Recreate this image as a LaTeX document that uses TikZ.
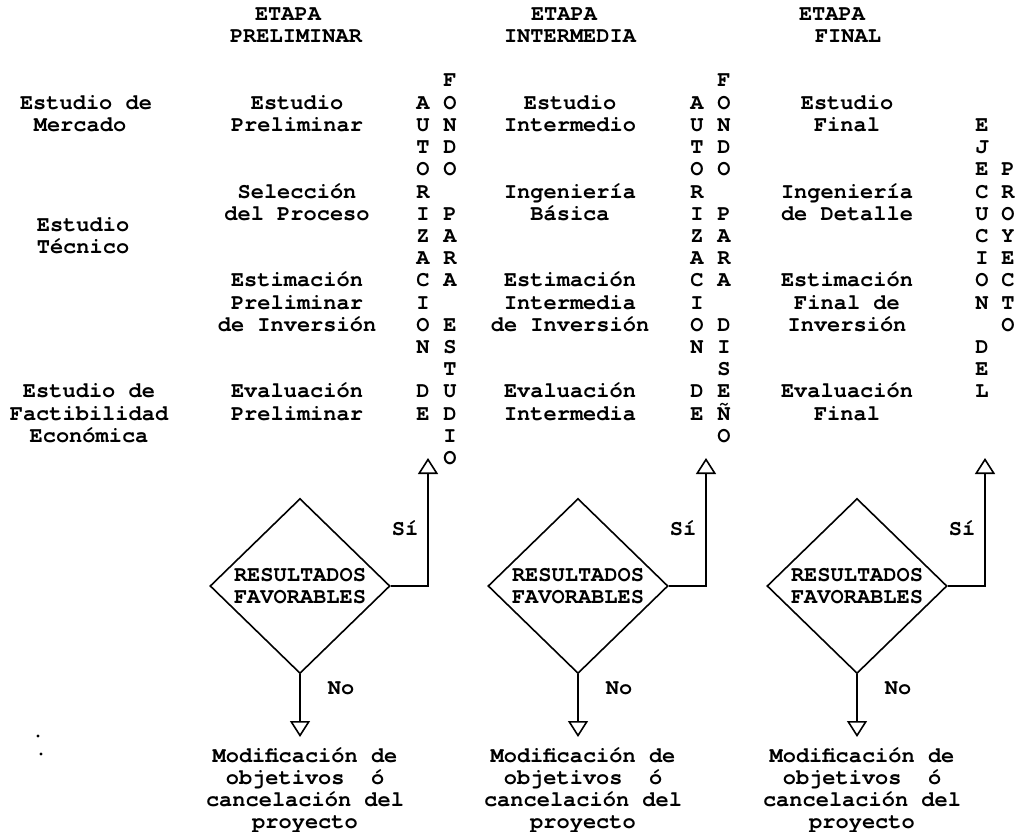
\documentclass[tikz,border=0pt]{standalone}
\usepackage{fontspec}
\setmonofont{texgyrecursor-regular}[Extension=.otf, BoldFont=texgyrecursor-bold]
\usetikzlibrary{positioning, arrows.meta, shapes.geometric}

\begin{document}
\begin{tikzpicture}[x=1pt, y=-1pt,
    txt/.style={font=\ttfamily\bfseries\fontsize{22}{22.2}\selectfont, inner sep=0pt, anchor=base},
    dec/.style={draw, diamond, line width=1.6pt, minimum width=180pt, minimum height=175pt, inner sep=0pt,
        align=center, font=\ttfamily\bfseries\fontsize{22}{22.2}\selectfont},
    conn/.style={line width=1.6pt, -{Triangle[open, length=16pt, width=20pt, line width=1.6pt]}}
]
    \useasboundingbox (0,0) rectangle (1022,832);

    % Etapas (encabezados)
    \foreach \t/\x/\r [count=\i] in {ETAPA/288/-3, PRELIMINAR/296/-2, ETAPA/564/-3, INTERMEDIA/570/-2,
        ETAPA/832/-3, FINAL/848/-2}
        \node[txt] (head\i) at (\x, {87+22.2*\r}) {\t};

    % Estudios (columna izquierda)
    \foreach \t/\x/\r [count=\i] in {Estudio de/86/1, Mercado/80/2, Estudio/83/6.5, Técnico/83/7.5,
        Estudio de/89/14, Factibilidad/89/15, Económica/89/16}
        \node[txt] (est\i) at (\x, {87+22.2*\r}) {\t};

    % Etapa preliminar
    \foreach \t/\r [count=\i] in {Estudio/1, Preliminar/2, Selección/5, del Proceso/6, Estimación/9,
        Preliminar/10, de Inversión/11, Evaluación/14, Preliminar/15}
        \node[txt] (pre\i) at (297, {87+22.2*\r}) {\t};

    % Etapa intermedia
    \foreach \t/\r [count=\i] in {Estudio/1, Intermedio/2, Ingeniería/5, Básica/6, Estimación/9,
        Intermedia/10, de Inversión/11, Evaluación/14, Intermedia/15}
        \node[txt] (int\i) at (570, {87+22.2*\r}) {\t};

    % Etapa final
    \foreach \t/\r [count=\i] in {Estudio/1, Final/2, Ingeniería/5, de Detalle/6, Estimación/9,
        Final de/10, Inversión/11, Evaluación/14, Final/15}
        \node[txt] (fin\i) at (847, {87+22.2*\r}) {\t};

    % Textos verticales
    \foreach \k/\x in {1/423, 2/697} {
        \foreach \l [count=\r] in {A,U,T,O,R,I,Z,A,C,I,O,N,{},D,E}
            \node[txt] (aut\k-\r) at (\x, {87+22.2*\r}) {\l};
    }
    \foreach \l [count=\r from 0] in {F,O,N,D,O,{},P,A,R,A,{},E,S,T,U,D,I,O}
        \node[txt] (fes\r) at (450, {87+22.2*\r}) {\l};
    \foreach \l [count=\r from 0] in {F,O,N,D,O,{},P,A,R,A,{},D,I,S,E,Ñ,O}
        \node[txt] (fdi\r) at (724, {87+22.2*\r}) {\l};
    \foreach \l [count=\r from 2] in {E,J,E,C,U,C,I,O,N,{},D,E,L}
        \node[txt] (eje\r) at (982, {87+22.2*\r}) {\l};
    \foreach \l [count=\r from 4] in {P,R,O,Y,E,C,T,O}
        \node[txt] (pro\r) at (1008, {87+22.2*\r}) {\l};

    % Decisiones
    \foreach \k/\x in {1/300, 2/578, 3/857} {
        \node[dec] (dec\k) at (\x, 586) {RESULTADOS\\FAVORABLES};
        \coordinate (si\k) at (\x+128, 458);
        \coordinate (no\k) at (\x, 737);
        \node[txt] (lsi\k) at (\x+105, 535) {Sí};
        \node[txt] (lno\k) at (\x+41, 694) {No};
        \node[txt, anchor=north, align=center] (mod\k) at (\x+5, 747)
            {Modificación de\\objetivos~~ó\\cancelación del\\proyecto};
        \draw[conn] (dec\k.east) -| (si\k);
        \draw[conn] (dec\k.south) -- (no\k);
    }

    % puntos sueltos
    \fill (38,736) circle [radius=1.6pt];
    \fill (41,754) circle [radius=1.6pt];

\end{tikzpicture}
\end{document}
